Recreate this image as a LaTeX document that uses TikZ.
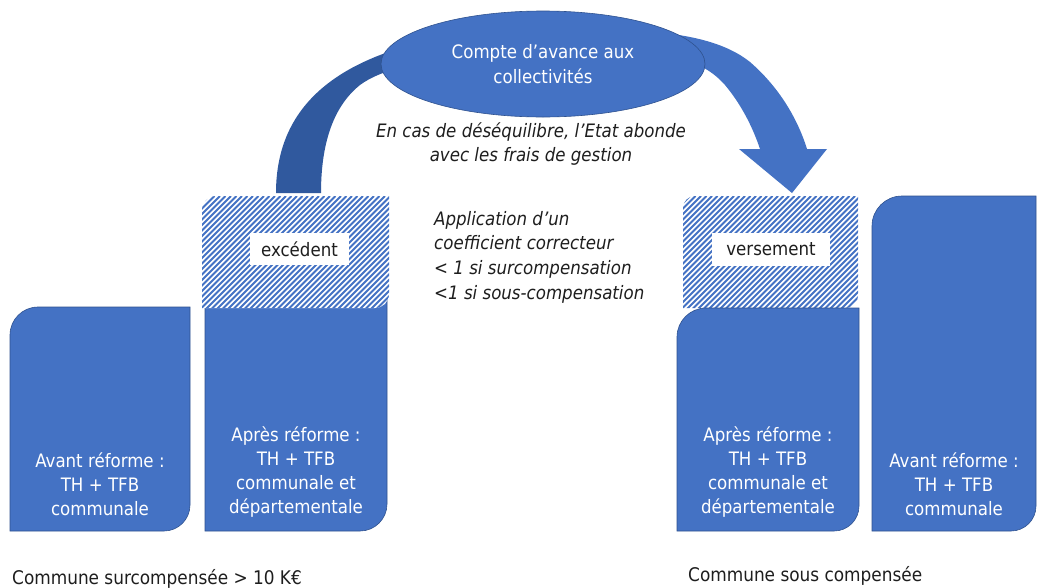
\documentclass[tikz,border=0pt]{standalone}
\usepackage{fontspec}
\newfontfamily\cf{DejaVu Sans Condensed}
\usetikzlibrary{shapes.geometric}
\definecolor{mblue}{HTML}{4472C4}
\definecolor{dblue}{HTML}{30599E}
\definecolor{oline}{HTML}{2F528F}
\definecolor{tgray}{HTML}{1E1E1E}
\newcommand\rdpath[6]{(#1,#4) -- (#1,#2+#5) .. controls (#1,#2+0.448*#5) and (#1+0.448*#5,#2) .. (#1+#5,#2) -- (#3,#2) -- (#3,#4-#6) .. controls (#3,#4-0.448*#6) and (#3-0.448*#6,#4) .. (#3-#6,#4) -- cycle}
\begin{document}
\begin{tikzpicture}[x=1pt,y=-1pt,
  boxtxt/.style={text=white, align=center, inner sep=0pt, font=\cf\fontsize{18.5}{23.8}\selectfont},
  itxt/.style={text=tgray, inner sep=0pt, font=\cf\itshape\fontsize{18.5}{24.6}\selectfont},
  plaintxt/.style={text=tgray, inner sep=0pt, font=\cf\fontsize{18.8}{22}\selectfont},
  blk/.style={fill=mblue, draw=oline, line width=0.6pt},
  hatchln/.style={draw=mblue, line width=1.8pt},
  lbl/.style={fill=white, inner sep=0pt, text=tgray, font=\cf\fontsize{18.5}{22}\selectfont}]
\useasboundingbox (0,0) rectangle (1038,587);
\fill[white] (0,0) rectangle (1038,587);

% curved arrow, dark back part
\fill[dblue] (276,193) .. controls (276,100) and (345,40) .. (520,28) -- (600,28) -- (560,60) -- (480,55)
  .. controls (420,60) and (380,70) .. (360,85) .. controls (335,105) and (321,140) .. (321,193) -- cycle;
% curved arrow, front part with head
\fill[mblue] (560,28) -- (600,30) .. controls (670,30) and (720,38) .. (750,62)
  .. controls (780,88) and (798,120) .. (807,149) -- (827,149) -- (792,193) -- (739,149) -- (760,149)
  .. controls (752,125) and (740,103) .. (725,85) .. controls (710,68) and (690,58) .. (650,52) -- (560,42) -- cycle;

\node[ellipse, fill=mblue, draw=oline, line width=0.6pt, minimum width=324pt, minimum height=106pt,
  inner sep=0pt, text=white, align=center, font=\cf\fontsize{18.5}{25}\selectfont] (compte) at (543,64)
  {Compte d’avance aux\\collectivités};

\node[itxt, align=center] (abonde) at (531,144) {En cas de déséquilibre, l’Etat abonde\\avec les frais de gestion};
\node[itxt, align=left, anchor=west] (coef) at (434,257)
  {Application d’un\\coefficient correcteur\\< 1 si surcompensation\\<1 si sous-compensation};

% left commune
\fill[blk] \rdpath{10}{307}{190}{531}{28}{26};
\fill[blk] \rdpath{205}{300}{387}{531}{0}{27};
\begin{scope}
  \clip \rdpath{202}{196}{389}{308}{14}{14};
  \fill[white] (200,190) rectangle (392,310);
  \foreach \a in {84,89.5,...,392} \draw[hatchln] (\a,310) -- (\a+114,196);
\end{scope}
\node[lbl, minimum width=99pt, minimum height=32pt] (exc) at (299.5,249) {excédent};

% right commune
\begin{scope}
  \clip \rdpath{683}{196}{858}{308}{12}{12};
  \fill[white] (680,190) rectangle (862,310);
  \foreach \a in {565,570.5,...,862} \draw[hatchln] (\a,310) -- (\a+114,196);
\end{scope}
\node[lbl, minimum width=118pt, minimum height=33pt] (vers) at (771,249.5) {versement};
\fill[blk] \rdpath{677}{308}{859}{531}{29}{25};
\fill[blk] \rdpath{872}{196}{1036}{531}{30}{25};

\node[boxtxt] (avg) at (100,484) {Avant réforme :\\TH + TFB\\communale};
\node[boxtxt] (apg) at (296,472) {Après réforme :\\TH + TFB\\communale et\\départementale};
\node[boxtxt] (apd) at (768,472) {Après réforme :\\TH + TFB\\communale et\\départementale};
\node[boxtxt] (avd) at (954,484) {Avant réforme :\\TH + TFB\\communale};

\node[plaintxt, anchor=base west] (surc) at (12,584) {Commune surcompensée > 10 K€};
\node[plaintxt, anchor=base west] (sousc) at (688,581) {Commune sous compensée};
\end{tikzpicture}
\end{document}
